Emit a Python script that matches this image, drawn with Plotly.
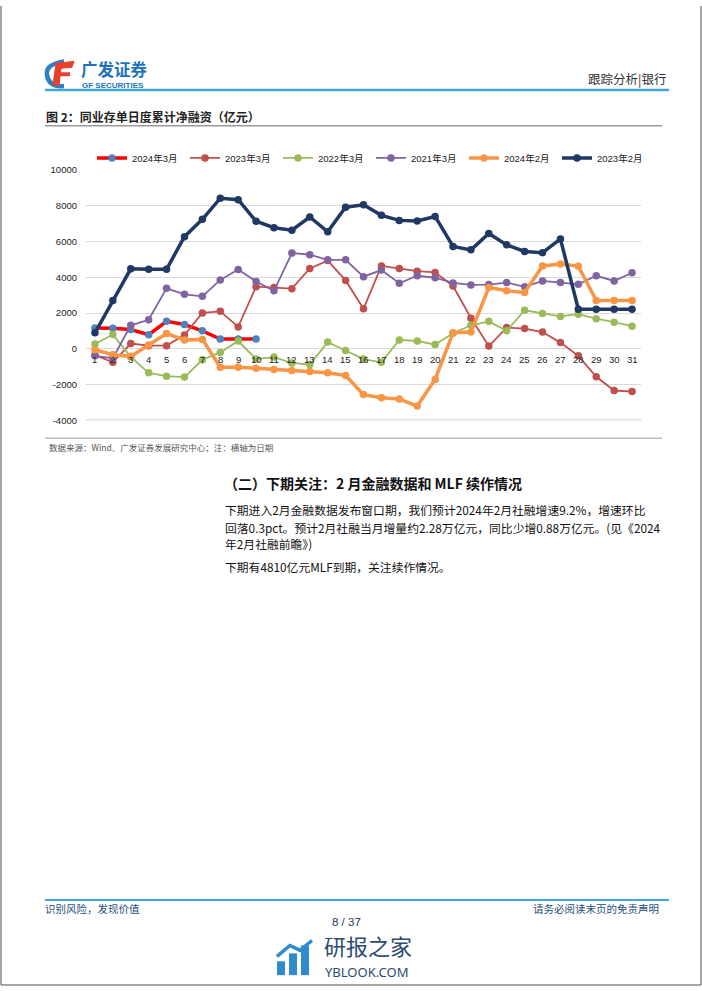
import plotly.graph_objects as go

W, H = 702, 991

days = list(range(1, 32))
day_labels = [str(d) for d in days]

s_2024_03 = [1170, 1150, 1080, 790, 1540, 1360, 1010, 550, 550, 550]
s_2023_03 = [-350, -750, 300, 180, 180, 770, 2010, 2100, 1230, 3480, 3430, 3370, 4500, 4940, 3830, 2240,
             4640, 4500, 4350, 4280, 3520, 1720, 160, 1190, 1135, 940, 350, -390, -1560, -2330, -2390]
s_2022_03 = [270, 800, -450, -1340, -1530, -1580, -610, -200, 440, -570, -460, -790, -880, 380, -90, -570,
             -750, 500, 440, 240, 870, 1320, 1540, 1010, 2160, 1980, 1815, 1940, 1690, 1490, 1270]
s_2021_03 = [-390, -520, 1320, 1630, 3390, 3050, 2940, 3860, 4440, 3770, 3250, 5360, 5270, 4980, 4980, 4040,
             4410, 3670, 4090, 3980, 3690, 3580, 3600, 3710, 3470, 3800, 3710, 3610, 4090, 3800, 4260]
s_2024_02 = [-50, -330, -420, 220, 860, 500, 530, -1030, -1030, -1085, -1160, -1210, -1270, -1340, -1490, -2560,
             -2740, -2810, -3200, -1710, 900, 940, 3430, 3250, 3160, 4640, 4750, 4630, 2700, 2700, 2700]
s_2023_02 = [900, 2700, 4480, 4450, 4450, 6280, 7250, 8430, 8350, 7140, 6780, 6640, 7380, 6550, 7930, 8060,
             7470, 7190, 7160, 7410, 5730, 5540, 6460, 5820, 5450, 5380, 6150, 2220, 2220, 2220, 2220]

y_ticks = [10000, 8000, 6000, 4000, 2000, 0, -2000, -4000]
y_tick_text = ["10000", "8000", "6000", "4000", "2000", "0", "-2000", "-4000"]

series = [
    ("2024年3月", s_2024_03, "#FF0000", "#4F81BD", 3.5),
    ("2023年3月", s_2023_03, "#C0504D", "#C0504D", 1.8),
    ("2022年3月", s_2022_03, "#9BBB59", "#9BBB59", 1.8),
    ("2021年3月", s_2021_03, "#8064A2", "#8064A2", 1.8),
    ("2024年2月", s_2024_02, "#F79646", "#F79646", 3.5),
    ("2023年2月", s_2023_02, "#1F3864", "#1F3864", 3.5),
]

fig = go.Figure()
for name, vals, lc, mc, lw in series:
    fig.add_trace(go.Scatter(
        x=days[:len(vals)], y=vals, name=name, mode="lines+markers",
        line=dict(color=lc, width=lw),
        marker=dict(color=mc, size=7.5, line=dict(width=0)),
    ))

def px(x, y):
    return x / W, 1 - y / H

# chart geometry
x0, x1 = 86, 641
y_top, y_bot = 166, 419

fig.update_layout(
    width=W, height=H,
    margin=dict(l=0, r=0, t=0, b=0),
    paper_bgcolor="white", plot_bgcolor="white",
    font=dict(family="Noto Sans CJK SC, Arial, sans-serif", color="#333333"),
    showlegend=True,
    legend=dict(
        orientation="h", x=92 / W, y=1 - 139 / H, xanchor="left", yanchor="top",
        font=dict(size=9.5, color="#222222", family="Arial, Noto Sans CJK SC"),
        entrywidth=48, entrywidthmode="pixels", itemwidth=30,
        bgcolor="rgba(0,0,0,0)", tracegroupgap=0,
    ),
    xaxis=dict(
        domain=[x0 / W, x1 / W], range=[0.5, 31.5], showgrid=False, zeroline=False,
        showticklabels=False, ticks="", showline=False, fixedrange=True,
    ),
    yaxis=dict(
        domain=[1 - y_bot / H, 1 - y_top / H], range=[-4000, 10000],
        tickvals=y_ticks, ticktext=y_tick_text, showgrid=True, gridcolor="#D9D9D9",
        gridwidth=1, zeroline=True, zerolinecolor="#D9D9D9", zerolinewidth=1,
        tickfont=dict(size=9.5, color="#222222", family="Arial"), ticklabelstandoff=8,
        showline=False, ticks="", fixedrange=True,
    ),
)

# bottom gridline emphasised
fig.add_shape(type="line", xref="paper", yref="y", x0=x0 / W, x1=x1 / W, y0=-4000, y1=-4000,
              line=dict(color="#D0D0D0", width=2), layer="below")

# category labels at zero line
for d, lab in zip(days, day_labels):
    fig.add_annotation(x=d, y=0, xref="x", yref="y", text=lab, showarrow=False,
                       yshift=-11, font=dict(size=9.5, color="#222222", family="Arial"))

def txt(x, y, s, size=11, color="#333333", anchor="left", bold=False, family="Noto Sans CJK SC, sans-serif"):
    ax, ay = px(x, y)
    if bold:
        s = "<b>" + s + "</b>"
    fig.add_annotation(x=ax, y=ay, xref="paper", yref="paper", text=s, showarrow=False,
                       xanchor=anchor, yanchor="middle", font=dict(size=size, color=color, family=family))

def hline(xa, xb, y, color, width):
    ax, ay = px(xa, y)
    bx, _ = px(xb, y)
    fig.add_shape(type="line", xref="paper", yref="paper", x0=ax, x1=bx, y0=ay, y1=ay,
                  line=dict(color=color, width=width))

# page border (left, right, bottom)
for xa, ya, xb, yb in [(1, 0, 1, 990), (701, 0, 701, 990), (1, 990, 701, 990)]:
    a = px(xa, ya)
    b = px(xb, yb)
    fig.add_shape(type="line", xref="paper", yref="paper", x0=a[0], y0=a[1], x1=b[0], y1=b[1],
                  line=dict(color="#8A8A8A", width=1.5))

# header logo mark
fig.add_shape(type="path", xref="paper", yref="paper",
              path="M {} {} Q {} {} {} {} Q {} {} {} {}".format(
                  *px(64, 56), *px(45, 59), *px(47, 70), *px(49, 82), *px(64, 81)),
              line=dict(color="#2F7FC1", width=4.5))
fig.add_shape(type="path", xref="paper", yref="paper",
              path="M {} {} L {} {} L {} {} L {} {} L {} {} L {} {} Z".format(
                  *px(56, 58), *px(74, 56), *px(72, 62), *px(61, 63), *px(59, 80), *px(53, 80)),
              fillcolor="#E8402A", line=dict(color="#E8402A", width=1))
fig.add_shape(type="rect", xref="paper", yref="paper",
              x0=px(58, 68)[0], x1=px(70, 68)[0], y0=px(0, 71)[1], y1=px(0, 67)[1],
              fillcolor="#E8402A", line=dict(width=0))
txt(79, 64, "广发证券", size=16.5, color="#1E73BE", bold=True)
txt(80, 80.5, "GF SECURITIES", size=8, color="#1E73BE", bold=True, family="Arial")
txt(668, 73, "跟踪分析|银行", size=12.5, color="#333333", anchor="right")
hline(45, 669, 85, "#41A6DC", 2.5)

# figure title
txt(44, 112, "图 2：同业存单日度累计净融资（亿元）", size=12, color="#222222", bold=True)
hline(45, 662, 121, "#9A9A9A", 1.5)

# source line
hline(45, 662, 437, "#9A9A9A", 1)
txt(47, 446, "数据来源：Wind、广发证券发展研究中心；注：横轴为日期", size=8.5, color="#555555")

# section heading and body
txt(222, 482, "（二）下期关注：2 月金融数据和 MLF 续作情况", size=14, color="#111111", bold=True)
txt(223, 509, "下期进入2月金融数据发布窗口期，我们预计2024年2月社融增速9.2%，增速环比", size=11.8, color="#111111")
txt(223, 527, "回落0.3pct。预计2月社融当月增量约2.28万亿元，同比少增0.88万亿元。(见《2024", size=11.8, color="#111111")
txt(223, 544, "年2月社融前瞻》)", size=11.8, color="#111111")
txt(223, 567, "下期有4810亿元MLF到期，关注续作情况。", size=11.8, color="#111111")

# footer
hline(45, 669, 904, "#41A6DC", 2)
txt(43, 913, "识别风险，发现价值", size=10.5, color="#1F4E79")
txt(661, 913, "请务必阅读末页的免责声明", size=10.5, color="#1F4E79", anchor="right")
txt(346, 926, "8 / 37", size=11.5, color="#1F3864", anchor="center", family="Arial")

# watermark
for bx, top in [(277, 966), (289, 958), (301, 950)]:
    fig.add_shape(type="rect", xref="paper", yref="paper",
                  x0=px(bx, 0)[0], x1=px(bx + 8, 0)[0], y0=px(0, 980)[1], y1=px(0, top)[1],
                  fillcolor="#2E8BCF", line=dict(width=0))
fig.add_shape(type="path", xref="paper", yref="paper",
              path="M {} {} L {} {} L {} {} L {} {}".format(*px(277, 961), *px(290, 950), *px(300, 955), *px(312, 945)),
              line=dict(color="#2E8BCF", width=3.5))
txt(322, 950, "研报之家", size=22, color="#2B4C6F")
txt(323, 977, "YBLOOK.COM", size=13, color="#2B4C6F", family="Noto Sans, Arial")

fig.write_html("out.html", config={"displayModeBar": False},
               post_script="document.body.style.margin='0';document.body.style.overflow='hidden';")
